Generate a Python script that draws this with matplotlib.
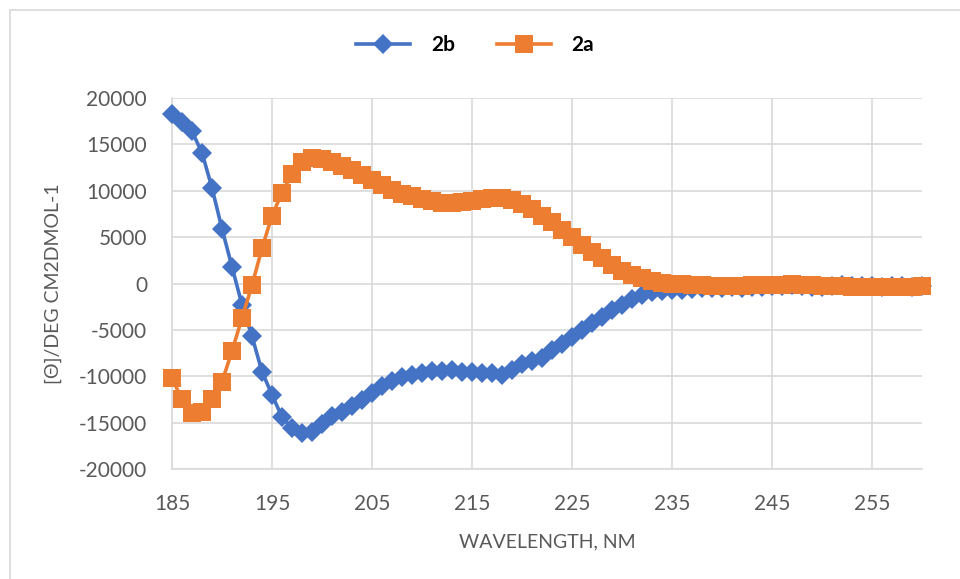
import matplotlib
matplotlib.use("Agg")
import matplotlib.pyplot as plt
from matplotlib.patches import Rectangle

# --- DATI ---
wavelength = list(range(185, 261))

cd_2b = [
    18300, 17400, 16400, 14100, 10300, 5900, 1800, -2300, -5700, -9500,
    -12000, -14400, -15600, -16100, -16000, -15100, -14300, -13900, -13200, -12600,
    -11800, -11100, -10500, -10100, -9900, -9600, -9400, -9400, -9300, -9500,
    -9500, -9600, -9700, -9900, -9300, -8700, -8400, -8000, -7200, -6500,
    -5800, -5000, -4300, -3600, -2900, -2300, -1700, -1200, -900, -800,
    -700, -700, -600, -500, -500, -500, -400, -500, -400, -400,
    -300, -300, -200, -300, -400, -400, -300, -200, -300, -300,
    -300, -400, -300, -300, -400, -300,
]

cd_2a = [
    -10200, -12500, -14000, -13900, -12500, -10600, -7300, -3700, -200, 3800,
    7300, 9800, 11800, 13100, 13500, 13400, 13100, 12700, 12200, 11700,
    11200, 10600, 10100, 9700, 9400, 9100, 8900, 8700, 8700, 8800,
    8900, 9100, 9200, 9200, 9000, 8600, 8000, 7300, 6600, 5800,
    5000, 4200, 3400, 2700, 2000, 1400, 900, 600, 300, 100,
    0, -100, -200, -200, -300, -300, -300, -300, -200, -200,
    -200, -200, -100, -200, -200, -300, -300, -300, -400, -400,
    -400, -400, -400, -400, -400, -300,
]

x_ticks = [185, 195, 205, 215, 225, 235, 245, 255]
y_ticks = list(range(-20000, 20001, 5000))

BLUE = "#4472C4"
ORANGE = "#ED7D31"
GRID = "#D9D9D9"
TXT = "#595959"

plt.rcParams['font.family'] = ['Lato', 'DejaVu Sans']
plt.rcParams['axes.unicode_minus'] = False  # Excel usa il trattino semplice

fig = plt.figure(figsize=(9.6, 5.79), dpi=100)

# bordo grigio chiaro del riquadro (come in Excel)
fig.patches.append(Rectangle((10 / 960, -0.1), 2, 1 - 10 / 579 + 0.1, transform=fig.transFigure,
                             fill=False, edgecolor=GRID, linewidth=1.2))

ax = fig.add_axes([172 / 960, 1 - 469 / 579, (922 - 172) / 960, (469 - 98) / 579])

# clip_on=False: i marker agli estremi escono dal riquadro come nell'originale
ax.plot(wavelength, cd_2b, color=BLUE, linewidth=2.6, marker="D", markersize=10,
        markeredgewidth=0, label="2b", zorder=3, clip_on=False)
ax.plot(wavelength, cd_2a, color=ORANGE, linewidth=2.6, marker="s", markersize=12.5,
        markeredgewidth=0, label="2a", zorder=4, clip_on=False)

ax.set_xlim(185, 260)
ax.set_ylim(-20000, 20000)
ax.set_xticks(x_ticks)
ax.set_yticks(y_ticks)
ax.tick_params(length=0, labelsize=15, colors=TXT)
ax.tick_params(axis="x", pad=18)
ax.tick_params(axis="y", pad=18)

ax.grid(True, color=GRID, linewidth=1.2)
ax.set_axisbelow(True)
for side in ["top", "right"]:
    ax.spines[side].set_visible(False)
for side in ["left", "bottom"]:
    ax.spines[side].set_color(GRID)
    ax.spines[side].set_linewidth(1.2)

ax.set_xlabel("WAVELENGTH, NM", fontsize=14, color=TXT, labelpad=14)
ax.set_ylabel("[Θ]/DEG CM2DMOL-1", fontsize=14, color=TXT, labelpad=12)

leg = fig.legend(loc="center", bbox_to_anchor=(475 / 960, 1 - 45 / 579), ncol=2, frameon=False,
                 handlelength=2.6, columnspacing=2.0, handletextpad=1.0,
                 prop={"size": 15, "weight": "bold"})

fig.savefig("out.png", dpi=100)
